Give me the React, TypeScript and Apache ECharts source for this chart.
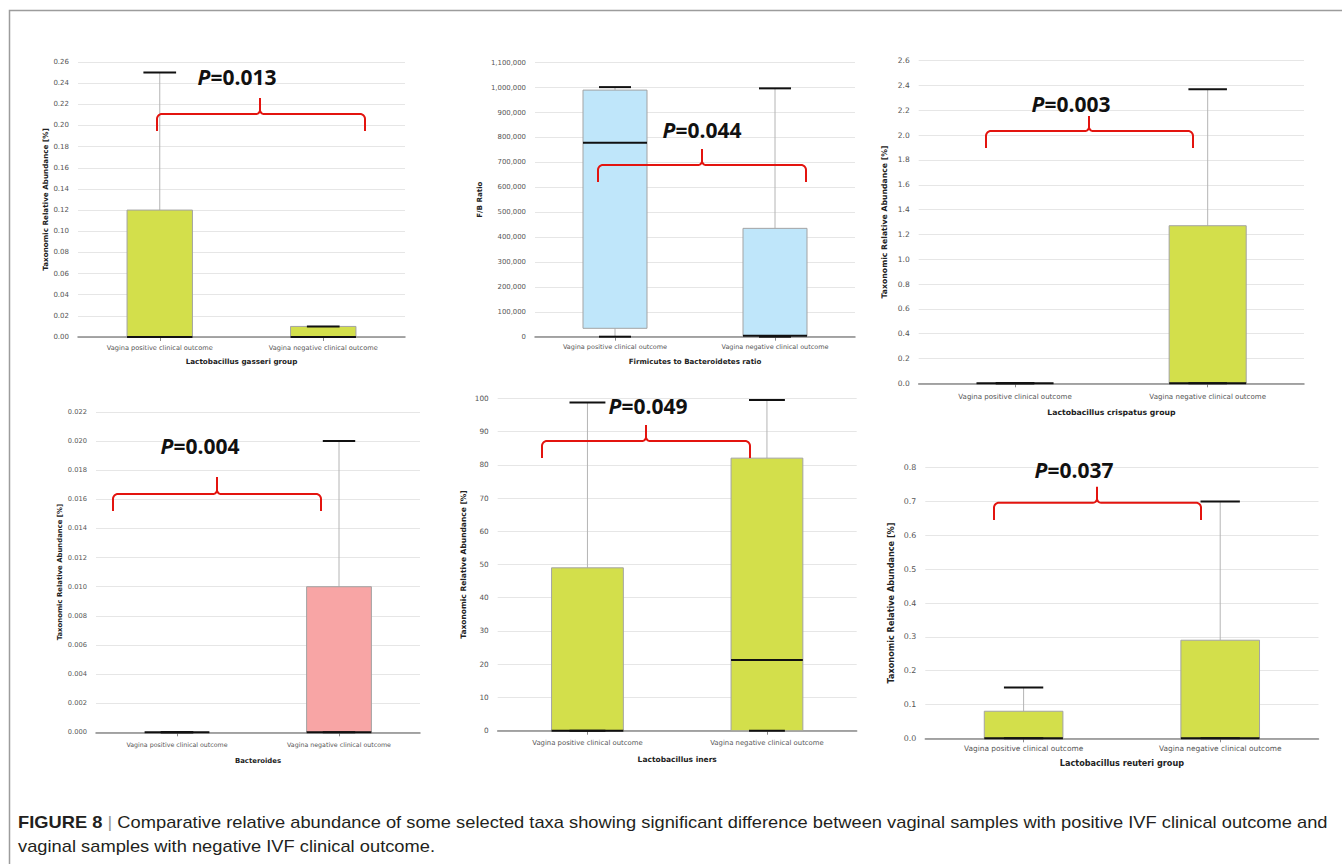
import React, { useEffect, useRef } from "react";
import * as echarts from "echarts";

const categories = ["Vagina positive clinical outcome", "Vagina negative clinical outcome"];

// Each entry: [min, q1, median, q3, max]
const gasseriStats = [[0, 0, 0, 0.12, 0.25], [0, 0, 0, 0.01, 0.01]];
const fbRatioStats = [[0, 33700, 779000, 990000, 1002000], [0, 0, 4000, 435000, 997000]];
const crispatusStats = [[0, 0, 0, 0, 0], [0, 0, 0, 1.27, 2.37]];
const bacteroidesStats = [[0, 0, 0, 0, 0], [0, 0, 0, 0.01, 0.02]];
const inersStats = [[0, 0, 0, 49, 98.7], [0, 0, 21.3, 82, 99.5]];
const reuteriStats = [[0, 0, 0, 0.08, 0.15], [0, 0, 0, 0.29, 0.7]];

const pValues = ["0.013", "0.044", "0.003", "0.004", "0.049", "0.037"];
const taxaNames = [
  "Lactobacillus gasseri group",
  "Firmicutes to Bacteroidetes ratio",
  "Lactobacillus crispatus group",
  "Bacteroides",
  "Lactobacillus iners",
  "Lactobacillus reuteri group",
];
const yTitles = [
  "Taxonomic Relative Abundance [%]",
  "F/B Ratio",
  "Taxonomic Relative Abundance [%]",
  "Taxonomic Relative Abundance [%]",
  "Taxonomic Relative Abundance [%]",
  "Taxonomic Relative Abundance [%]",
];
const yMax = [0.26, 1100000, 2.6, 0.022, 100, 0.8];
const yInterval = [0.02, 100000, 0.2, 0.002, 10, 0.1];
const yDecimals = [2, 0, 1, 3, 0, 1];

const captionBold = "FIGURE 8";
const captionLine1 =
  "Comparative relative abundance of some selected taxa showing significant difference between vaginal samples with positive IVF clinical outcome and";
const captionLine2 = "vaginal samples with negative IVF clinical outcome.";

const statsList = [gasseriStats, fbRatioStats, crispatusStats, bacteroidesStats, inersStats, reuteriStats];

// layout (pixels) per panel
const layout = [
  { left: 78, top: 62, width: 327, height: 275, f: 7, fill: "#d3df4b", yGap: 29, xGap: 21, lblM: 7, p: [237, 77], brace: [157, 365, 260, 114, 131, 98] },
  { left: 535, top: 62.7, width: 320, height: 274, f: 6.9, fill: "#bfe6fa", yGap: 52, xGap: 21, lblM: 7, p: [702, 130], brace: [598, 806, 702, 165, 182, 149] },
  { left: 918.7, top: 60.7, width: 385.3, height: 322.6, f: 7.5, fill: "#d3df4b", yGap: 30, xGap: 25, lblM: 10, p: [1071, 104], brace: [986, 1193, 1089, 131, 148, 116] },
  { left: 96, top: 412, width: 324, height: 320.3, f: 6.7, fill: "#f8a5a5", yGap: 32, xGap: 25, lblM: 9, p: [200, 446], brace: [113, 321, 217, 494, 511, 477] },
  { left: 497.7, top: 398.3, width: 359, height: 332.4, f: 7.3, fill: "#d3df4b", yGap: 30, xGap: 25, lblM: 9, p: [648, 406], brace: [542, 750, 646, 441, 458, 425] },
  { left: 925.3, top: 467.7, width: 393.2, height: 270.6, f: 7.9, fill: "#d3df4b", yGap: 30, xGap: 21, lblM: 7, p: [1074, 470], brace: [994, 1201, 1097, 502.7, 520, 486.7] },
];

function bracePoints(x1: number, x2: number, xt: number, yH: number, yEnd: number, yTip: number) {
  const r = 5;
  const r2 = 4;
  const pts: number[][] = [];
  const steps = 8;
  pts.push([x1, yEnd]);
  pts.push([x1, yH + r]);
  for (let k = 1; k <= steps; k++) {
    const t = (k / steps) * (Math.PI / 2);
    pts.push([x1 + r - r * Math.cos(t), yH + r - r * Math.sin(t)]);
  }
  pts.push([xt - r2, yH]);
  for (let k = 1; k <= steps; k++) {
    const t = (k / steps) * (Math.PI / 2);
    pts.push([xt - r2 + r2 * Math.sin(t), yH - r2 + r2 * Math.cos(t)]);
  }
  pts.push([xt, yTip]);
  pts.push([xt, yH - r2]);
  for (let k = 1; k <= steps; k++) {
    const t = (k / steps) * (Math.PI / 2);
    pts.push([xt + r2 - r2 * Math.cos(t), yH - r2 + r2 * Math.sin(t)]);
  }
  pts.push([x2 - r, yH]);
  for (let k = 1; k <= steps; k++) {
    const t = (k / steps) * (Math.PI / 2);
    pts.push([x2 - r + r * Math.sin(t), yH + r - r * Math.cos(t)]);
  }
  pts.push([x2, yEnd]);
  return pts;
}

function fmt(v: number, d: number) {
  if (d === 0) return Math.round(v).toLocaleString("en-US");
  return v.toFixed(d);
}

export default function App() {
  const ref = useRef<HTMLDivElement>(null);
  useEffect(() => {
    if (!ref.current) return;
    const chart = echarts.init(ref.current, null, { renderer: "svg" });
    const grid: any[] = [];
    const xAxis: any[] = [];
    const yAxis: any[] = [];
    const series: any[] = [];
    const graphic: any[] = [];

    layout.forEach((L, i) => {
      grid.push({ left: L.left, top: L.top, width: L.width, height: L.height, containLabel: false });
      xAxis.push({
        type: "category",
        gridIndex: i,
        data: categories,
        axisLine: { show: true, lineStyle: { color: "#8a8a8a", width: 1.5 } },
        axisTick: { show: true, alignWithLabel: true, length: 4, lineStyle: { color: "#8a8a8a" } },
        axisLabel: { fontSize: L.f * 0.94, color: "#555", fontFamily: "DejaVu Sans", margin: L.lblM },
        name: taxaNames[i],
        nameLocation: "middle",
        nameGap: L.xGap,
        nameTextStyle: { fontSize: L.f * 1.03, fontWeight: "bold", color: "#222", fontFamily: "DejaVu Sans" },
        splitLine: { show: false },
      });
      const d = yDecimals[i];
      yAxis.push({
        type: "value",
        gridIndex: i,
        min: 0,
        max: yMax[i],
        interval: yInterval[i],
        axisLine: { show: false },
        axisTick: { show: false },
        axisLabel: { fontSize: L.f, color: "#555", fontFamily: "DejaVu Sans", margin: 9, formatter: (v: number) => fmt(v, d) },
        splitLine: { show: true, lineStyle: { color: "#e6e6e6", width: 1 } },
        name: yTitles[i],
        nameLocation: "middle",
        nameRotate: 90,
        nameGap: L.yGap,
        nameTextStyle: { fontSize: L.f * 1.03, fontWeight: "bold", color: "#222", fontFamily: "DejaVu Sans" },
      });
      const fill = L.fill;
      series.push({
        type: "custom",
        xAxisIndex: i,
        yAxisIndex: i,
        clip: false,
        encode: { x: 0, y: [1, 2, 3, 4, 5] },
        data: statsList[i].map((s, k) => [k, ...s]),
        renderItem: (params: any, api: any) => {
          const cat = api.value(0);
          const mn = api.value(1);
          const q1 = api.value(2);
          const md = api.value(3);
          const q3 = api.value(4);
          const mx = api.value(5);
          const band = api.size([1, 0])[0];
          const bw = band * 0.4;
          const cw = bw * 0.5;
          const [cx, yMin] = api.coord([cat, mn]);
          const yQ1 = api.coord([cat, q1])[1];
          const yMd = api.coord([cat, md])[1];
          const yQ3 = api.coord([cat, q3])[1];
          const yMx = api.coord([cat, mx])[1];
          const children: any[] = [];
          if (yMx < yQ3) children.push({ type: "line", shape: { x1: cx, y1: yQ3, x2: cx, y2: yMx }, style: { stroke: "#b4b4b4", lineWidth: 1 } });
          if (yQ1 < yMin) children.push({ type: "line", shape: { x1: cx, y1: yMin, x2: cx, y2: yQ1 }, style: { stroke: "#b4b4b4", lineWidth: 1 } });
          if (yQ1 - yQ3 > 0.5)
            children.push({ type: "rect", shape: { x: cx - bw / 2, y: yQ3, width: bw, height: yQ1 - yQ3 }, style: { fill, stroke: "#a3a3a3", lineWidth: 1 } });
          children.push({ type: "line", shape: { x1: cx - cw / 2, y1: yMin, x2: cx + cw / 2, y2: yMin }, style: { stroke: "#111", lineWidth: 2 } });
          children.push({ type: "line", shape: { x1: cx - bw / 2, y1: yMd, x2: cx + bw / 2, y2: yMd }, style: { stroke: "#111", lineWidth: 2 } });
          children.push({ type: "line", shape: { x1: cx - cw / 2, y1: yMx, x2: cx + cw / 2, y2: yMx }, style: { stroke: "#111", lineWidth: 2 } });
          return { type: "group", children };
        },
      });
      const [x1, x2, xt, yH, yEnd, yTip] = L.brace;
      graphic.push({
        type: "polyline",
        shape: { points: bracePoints(x1, x2, xt, yH, yEnd, yTip) },
        style: { stroke: "#e3140f", lineWidth: 2, fill: null },
        z: 10,
      });
      graphic.push({
        type: "text",
        x: L.p[0],
        y: L.p[1],
        style: {
          text: "{i|P}{n|=" + pValues[i] + "}",
          align: "center",
          verticalAlign: "middle",
          rich: {
            i: { fontFamily: "Open Sans", fontSize: 21, fontWeight: "bold", fontStyle: "italic", fill: "#111" },
            n: { fontFamily: "Open Sans", fontSize: 21, fontWeight: "bold", fill: "#111" },
          },
        },
        z: 10,
      });
    });

    graphic.push({
      type: "rect",
      shape: { x: 9.5, y: 10.5, width: 1345, height: 900 },
      style: { fill: null, stroke: "#9c9c9c", lineWidth: 1.5 },
      z: 0,
    });
    graphic.push({
      type: "text",
      x: 18,
      y: 822,
      scaleX: 1.144,
      style: {
        text: "{b|" + captionBold + "}{s| | }{n|" + captionLine1 + "}",
        verticalAlign: "middle",
        rich: {
          b: { fontFamily: "Liberation Sans", fontSize: 16, fontWeight: "bold", fill: "#231f20" },
          s: { fontFamily: "Liberation Sans", fontSize: 16, fill: "#9a9a9a" },
          n: { fontFamily: "Liberation Sans", fontSize: 16, fill: "#231f20" },
        },
      },
    });
    graphic.push({
      type: "text",
      x: 18,
      y: 846,
      scaleX: 1.144,
      style: { text: captionLine2, verticalAlign: "middle", fontFamily: "Liberation Sans", fontSize: 16, fill: "#231f20" },
    });

    chart.setOption({
      animation: false,
      backgroundColor: "#ffffff",
      grid,
      xAxis,
      yAxis,
      series,
      graphic,
    });
    return () => chart.dispose();
  }, []);
  return <div ref={ref} style={{ position: "absolute", left: 0, top: 0, width: 1342, height: 864 }} />;
}
